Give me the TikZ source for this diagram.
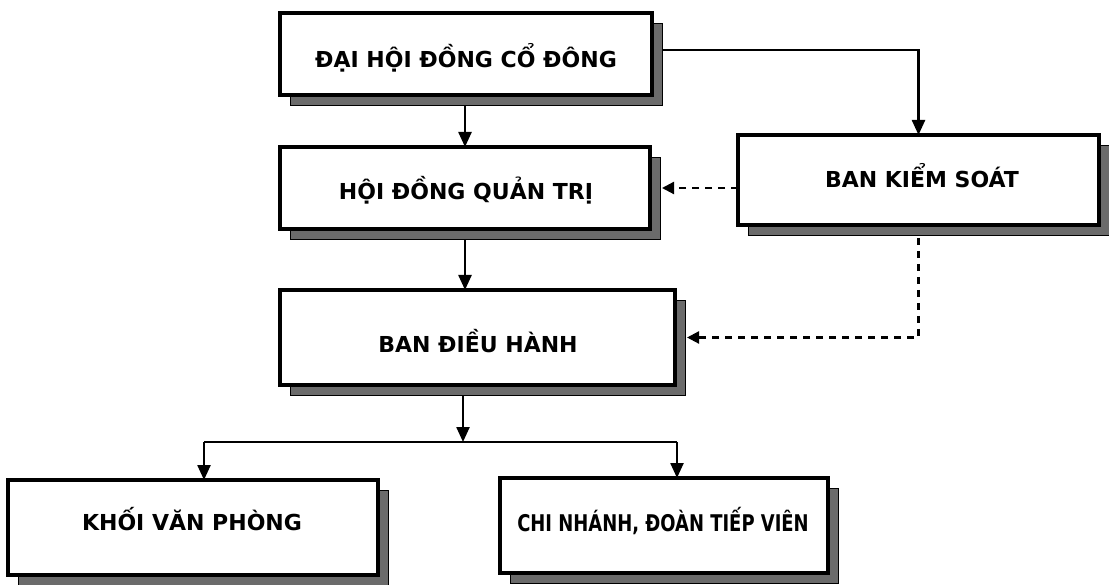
\documentclass[tikz,border=0pt]{standalone}
\usepackage{fontspec}
\setmainfont{DejaVu Sans}
\usetikzlibrary{arrows.meta}
\begin{document}
\begin{tikzpicture}[x=1pt,y=-1pt,
  boxpos/.style={inner sep=0pt,outer sep=0pt,rectangle},
  box/.style={draw=black,line width=3.4pt,fill=white},
  shad/.style={fill=black!58,draw=black,line width=0.6pt},
  lbl/.style={font=\fontsize{22}{26}\selectfont\bfseries,anchor=base,inner sep=0pt},
  arr/.style={line width=2.4pt,-{Triangle[width=13pt,length=15pt]}},
  darr/.style={line width=2.2pt,dash pattern=on 7pt off 6pt,-{Triangle[width=12pt,length=12pt]}}]
\useasboundingbox (0,0) rectangle (1109,585);
% box positions
\path
  (466,54)      node[boxpos,minimum width=372pt,minimum height=82pt] (b1) {}
  (465,188)     node[boxpos,minimum width=370pt,minimum height=82pt] (b2) {}
  (477.5,337.5) node[boxpos,minimum width=395pt,minimum height=95pt] (b3) {}
  (918.5,180)   node[boxpos,minimum width=361pt,minimum height=90pt] (b4) {}
  (193,527.5)   node[boxpos,minimum width=370pt,minimum height=95pt] (b5) {}
  (664,525.5)   node[boxpos,minimum width=328pt,minimum height=95pt] (b6) {};
\coordinate (j) at (463,442);
% connectors
\draw[arr] (b2.north |- b1.south) -- (b2.north);
\draw[arr] ([yshift=4pt]b1.east) -| (b4.north);
\draw[arr] (b2.south) -- (b2.south |- b3.north);
\draw[arr] (j |- b3.south) -- (j);
\draw[line width=2.4pt] ([xshift=11pt]b5.north |- j) -- ([xshift=13pt]b6.north |- j);
\draw[arr] ([xshift=11pt]b5.north |- j) -- ([xshift=11pt]b5.north);
\draw[arr] ([xshift=13pt]b6.north |- j) -- ([xshift=13pt]b6.north);
\draw[darr] (b4.west |- b2.east) -- ([xshift=12pt]b2.east);
\draw[darr] (b4.south) |- ([xshift=12pt]b3.east);
% shadows
\foreach \b in {b1,b2,b3,b4,b5,b6}
  \draw[shad] ([shift={(10pt,-10pt)}]\b.north west) rectangle ([shift={(10pt,-10pt)}]\b.south east);
% boxes
\foreach \b in {b1,b2,b3,b4,b5,b6}
  \draw[box] (\b.north west) rectangle (\b.south east);
% labels
\node[lbl] (t1) at (466,68) {ĐẠI HỘI ĐỒNG CỔ ĐÔNG};
\node[lbl] (t2) at (466,200) {HỘI ĐỒNG QUẢN TRỊ};
\node[lbl] (t3) at (478,353) {BAN ĐIỀU HÀNH};
\node[lbl] (t4) at (922,188) {BAN KIỂM SOÁT};
\node[lbl] (t5) at (192,530) {KHỐI VĂN PHÒNG};
\node[lbl,font=\fontsize{23}{27}\selectfont\bfseries] (t6) at (663,531) {\scalebox{0.78}[1]{CHI NHÁNH, ĐOÀN TIẾP VIÊN}};
\end{tikzpicture}
\end{document}
